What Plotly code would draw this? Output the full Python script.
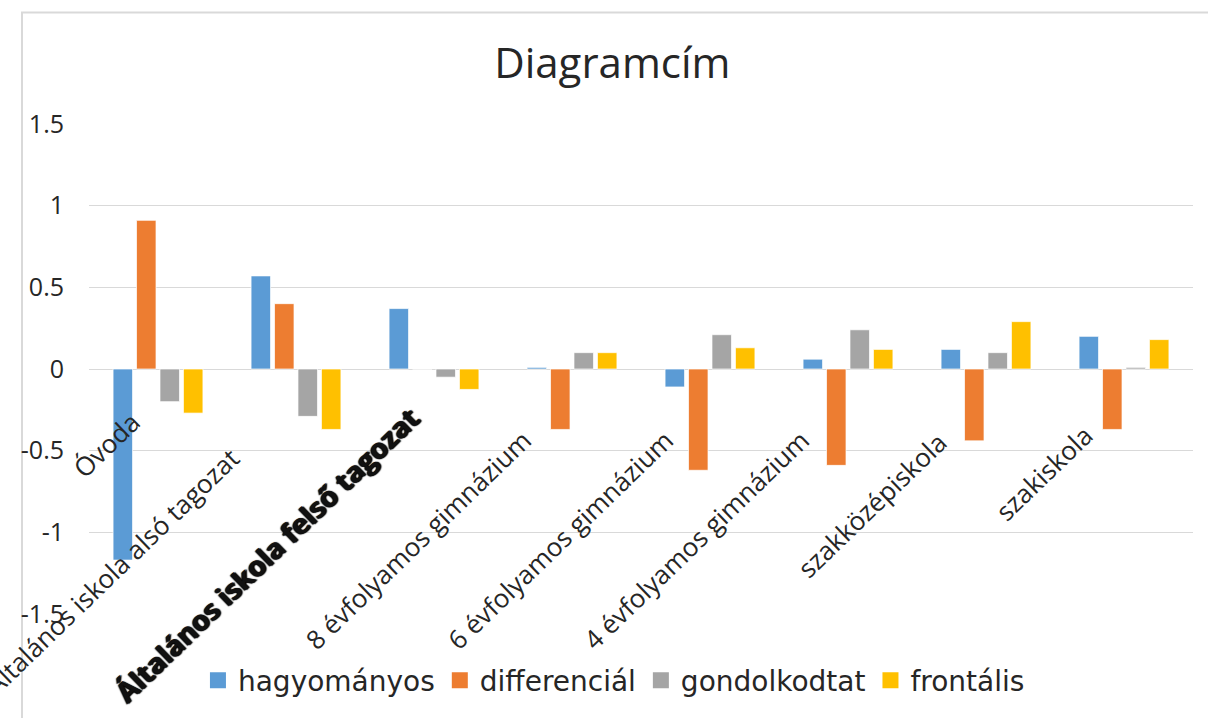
import plotly.graph_objects as go

# Category labels (school types)
categories = [
    "Óvoda",
    "Általános iskola alsó tagozat",
    "Általános iskola felső tagozat",
    "8 évfolyamos gimnázium",
    "6 évfolyamos gimnázium",
    "4 évfolyamos gimnázium",
    "szakközépiskola",
    "szakiskola",
]

# Series values
hagyomanyos = [-1.17, 0.57, 0.37, 0.01, -0.11, 0.06, 0.12, 0.20]
differencial = [0.91, 0.40, 0.0, -0.37, -0.62, -0.59, -0.44, -0.37]
gondolkodtat = [-0.20, -0.29, -0.05, 0.10, 0.21, 0.24, 0.10, 0.01]
frontalis = [-0.27, -0.37, -0.125, 0.10, 0.13, 0.12, 0.29, 0.18]

series_names = ["hagyományos", "differenciál", "gondolkodtat", "frontális"]
series_values = [hagyomanyos, differencial, gondolkodtat, frontalis]
series_colors = ["#5B9BD5", "#ED7D31", "#A5A5A5", "#FFC000"]

y_tick_values = [-1.5, -1, -0.5, 0, 0.5, 1, 1.5]
y_tick_labels = ["-1.5", "-1", "-0.5", "0", "0.5", "1", "1.5"]

# Pixel offsets (x, y) of each rotated category label from its category centre
label_offsets = [(-8, -33), (-46, -68), (-4, -26), (-31, -51),
                 (-27, -51), (-29, -51), (-29, -53), (-21, -46)]

FONT = "Open Sans"
LEGEND_FONT = "DejaVu Sans"
TEXT = "#262626"
GRID = "#D9D9D9"

fig = go.Figure()

for name, vals, col in zip(series_names, series_values, series_colors):
    fig.add_trace(
        go.Bar(
            x=categories,
            y=vals,
            name=name,
            marker=dict(color=col, line=dict(color="rgba(255,255,255,0.7)", width=1)),
            showlegend=False,
        )
    )

# Legend entries with larger square swatches
for name, col in zip(series_names, series_colors):
    fig.add_trace(
        go.Scatter(
            x=[None],
            y=[None],
            mode="markers",
            name=name,
            marker=dict(symbol="square", size=17, color=col),
            showlegend=True,
        )
    )

# Rotated category labels sitting just below the zero line
for i, (cat, (dx, dy)) in enumerate(zip(categories, label_offsets)):
    bold = i == 2
    fig.add_annotation(
        x=cat,
        y=0,
        xref="x",
        yref="y",
        text=f"<b>{cat}</b>" if bold else cat,
        textangle=-44,
        showarrow=False,
        xanchor="right",
        yanchor="top",
        xshift=dx,
        yshift=dy,
        font=dict(
            family=FONT,
            size=28 if bold else 26,
            color="#111111" if bold else TEXT,
            shadow="1px 1px 1px #000000, -1px 0px 1px #000000" if bold else "none",
        ),
    )

# Chart area border
fig.add_shape(
    type="rect",
    xref="paper",
    yref="paper",
    x0=-0.0607,
    x1=1.03,
    y0=-0.3,
    y1=1.2276,
    line=dict(color=GRID, width=2),
    fillcolor="rgba(0,0,0,0)",
    layer="below",
)

fig.update_layout(
    width=1208,
    height=718,
    margin=dict(l=89, r=15, t=124, b=102),
    paper_bgcolor="white",
    plot_bgcolor="white",
    barmode="group",
    bargap=0.32,
    bargroupgap=0.17,
    title=dict(
        text="Diagramcím",
        x=0.474,
        xref="paper",
        xanchor="center",
        y=0.912,
        yref="container",
        yanchor="middle",
        font=dict(family=FONT, size=42, color=TEXT),
    ),
    font=dict(family=FONT, color=TEXT),
    legend=dict(
        orientation="h",
        x=0.4755,
        xanchor="center",
        y=-0.136,
        yanchor="middle",
        font=dict(family=LEGEND_FONT, size=28, color=TEXT),
        itemwidth=30,
        bgcolor="rgba(0,0,0,0)",
    ),
    xaxis=dict(
        type="category",
        showticklabels=False,
        showgrid=False,
        showline=False,
        zeroline=False,
        ticks="",
        range=[-0.5, len(categories) - 0.5],
    ),
    yaxis=dict(
        range=[-1.5, 1.5],
        tickvals=y_tick_values,
        ticktext=y_tick_labels,
        tickfont=dict(family=FONT, size=25, color=TEXT),
        showgrid=True,
        gridcolor=GRID,
        gridwidth=1,
        zeroline=True,
        zerolinecolor=GRID,
        zerolinewidth=1,
        showline=False,
        ticks="",
        ticklabelstandoff=24,
    ),
)

fig.write_html("out.html")
